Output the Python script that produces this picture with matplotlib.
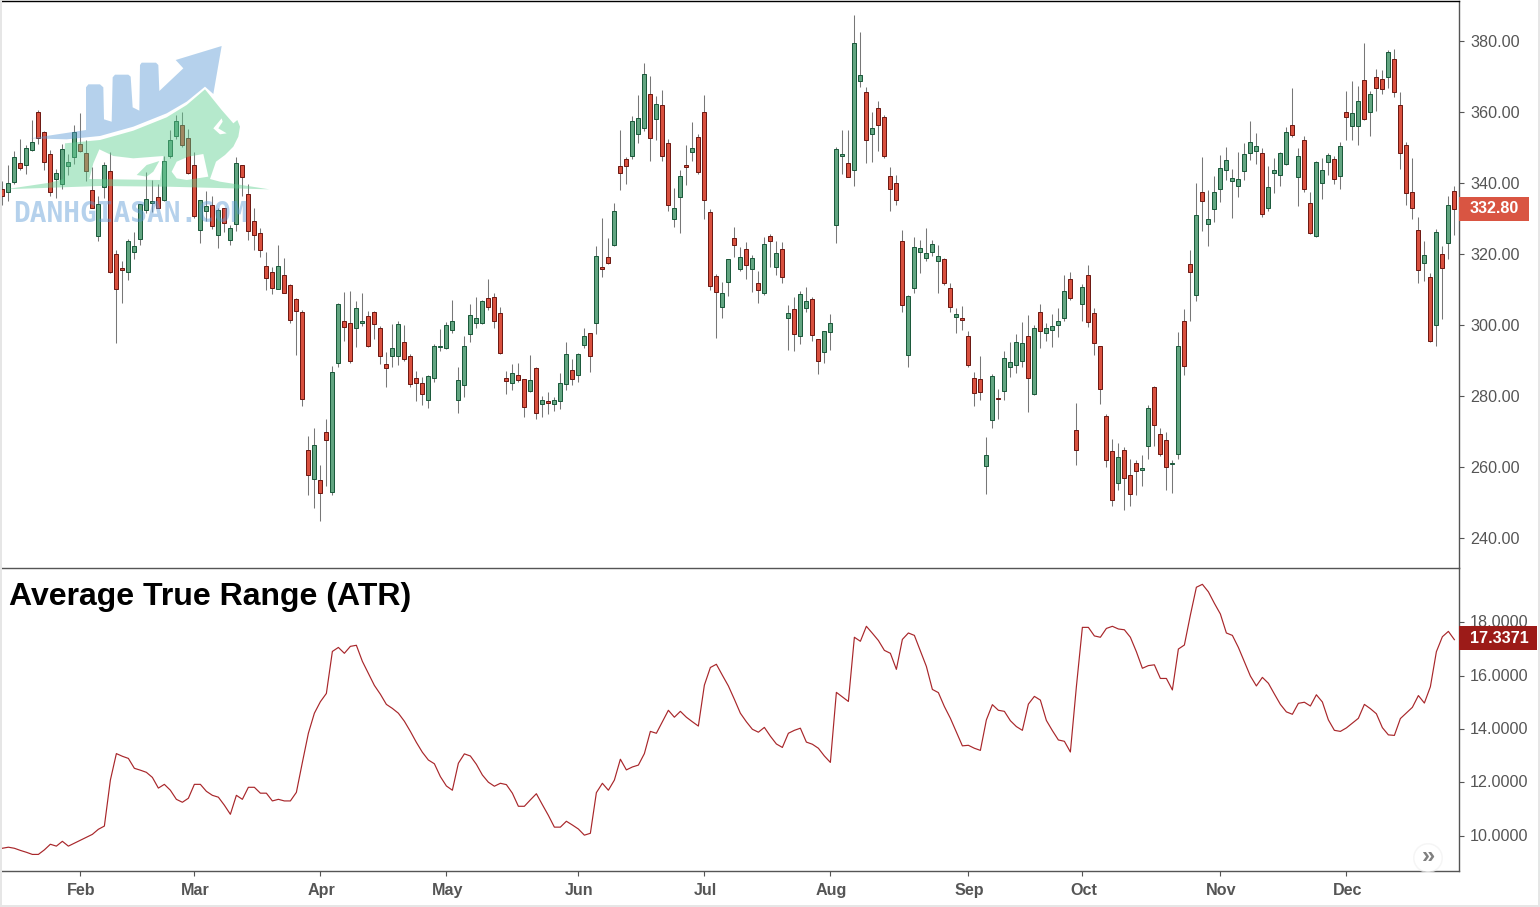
import matplotlib
matplotlib.use("Agg")
import matplotlib.pyplot as plt
from matplotlib.patches import PathPatch, Circle, Rectangle
from matplotlib.path import Path
from matplotlib.transforms import blended_transform_factory, ScaledTranslation

plt.rcParams['font.family'] = ['Liberation Sans', 'DejaVu Sans']

# daily candles
opens = [
    338.4,337.4,340.4,345.5,345.0,349.2,359.9,354.5,348.1,341.2,
    339.8,344.9,347.4,350.9,348.4,337.9,325.2,339.0,343.3,319.9,
    316.0,315.0,320.7,324.3,332.5,334.5,336.0,335.3,347.7,353.3,
    356.2,352.6,345.0,326.9,332.2,333.7,325.4,332.9,324.0,328.5,
    345.0,336.8,329.2,325.8,316.5,314.8,310.2,314.0,311.2,307.2,
    303.8,264.7,256.5,256.2,269.8,252.9,289.2,301.0,300.5,299.1,
    300.7,302.4,303.6,299.1,288.9,291.2,291.2,295.1,291.2,285.0,
    283.6,278.8,285.2,293.7,293.4,298.5,278.8,283.0,297.4,300.7,
    300.5,307.5,307.8,303.3,285.0,283.8,285.8,284.7,281.3,287.8,
    277.7,278.5,277.7,278.5,283.3,287.2,285.8,294.3,297.7,300.5,
    316.2,319.1,322.4,344.7,346.7,347.5,353.7,355.4,365.0,357.9,
    361.9,351.4,330.0,336.0,345.0,348.6,353.1,359.9,331.7,313.7,
    305.0,312.0,324.4,315.7,321.3,315.7,311.7,308.9,325.0,316.2,
    321.3,301.9,304.4,296.8,304.7,307.2,296.0,292.3,297.9,328.2,
    347.7,345.5,343.8,368.8,365.5,353.9,361.0,358.5,341.9,339.9,
    323.6,291.6,310.5,320.7,319.0,320.7,317.9,318.5,310.3,302.2,
    301.9,296.8,285.0,284.7,260.2,273.1,279.4,281.3,288.1,288.6,
    290.0,296.8,280.5,303.6,297.7,298.5,299.9,301.9,312.9,270.3,
    305.8,314.0,303.3,294.0,274.5,264.4,255.4,264.7,257.7,261.0,
    259.1,265.8,282.4,269.2,267.5,260.8,263.8,301.0,317.1,308.4,
    337.4,328.4,332.6,338.2,343.6,340.5,339.1,343.3,348.4,348.9,
    348.4,333.1,342.7,342.2,345.3,356.2,341.6,352.0,334.3,325.0,
    339.9,345.8,346.9,341.9,359.9,356.0,356.0,368.9,359.9,369.8,
    369.2,370.0,374.8,361.9,350.6,337.6,326.9,317.4,313.4,299.9,319.9,323.0,337.7,
]
closes = [
    336.2,339.9,347.2,344.3,350.0,351.5,352.8,345.8,337.6,342.7,
    349.5,345.8,354.3,349.1,343.5,333.1,334.0,345.0,315.0,310.2,
    315.6,323.6,322.2,334.0,335.4,334.8,333.1,346.1,352.0,357.4,
    350.8,342.9,330.8,335.1,333.4,328.0,332.3,328.8,327.2,345.5,
    341.8,326.6,325.4,321.2,313.3,310.5,316.5,309.1,301.5,304.0,
    279.1,257.8,266.1,252.6,267.5,286.9,305.8,299.3,289.8,304.7,
    301.0,294.0,300.2,291.2,287.8,293.4,300.2,290.3,283.3,283.6,
    280.7,285.5,294.0,294.0,299.9,301.0,284.4,294.0,302.7,301.9,
    306.9,305.0,301.0,292.0,284.1,286.4,284.4,276.8,284.4,275.1,
    279.0,277.9,278.8,283.8,291.7,284.7,291.7,296.8,291.2,319.3,
    315.9,317.6,332.0,342.7,344.7,357.6,358.2,370.6,352.6,362.2,
    347.5,333.7,332.9,341.9,344.4,349.8,343.0,335.1,310.9,309.2,
    308.9,318.5,322.4,319.1,316.8,318.8,310.0,322.7,323.8,320.2,
    313.4,303.3,297.4,308.6,306.7,297.1,290.0,298.2,300.7,349.5,
    348.1,341.8,379.3,370.3,352.2,355.4,356.2,347.5,338.4,335.3,
    305.5,308.3,321.9,321.6,320.2,322.7,319.3,311.7,305.0,303.0,
    301.5,288.8,280.8,281.0,263.3,285.5,279.2,290.6,289.5,295.1,
    294.8,285.0,299.1,298.2,299.1,299.6,301.0,309.5,307.5,264.7,
    310.6,300.9,294.8,281.9,261.9,250.6,262.7,256.8,252.3,258.8,
    259.6,276.5,271.7,263.8,259.9,261.0,294.0,288.4,314.8,330.9,
    334.8,329.8,337.4,344.1,346.4,341.3,341.0,348.1,351.5,350.3,
    331.2,338.8,343.8,348.4,354.3,353.4,347.5,338.2,325.8,345.8,
    343.8,347.8,341.0,350.3,358.5,359.6,363.0,357.9,365.0,366.7,
    366.4,376.8,365.5,348.4,337.1,332.9,315.4,319.6,295.4,326.1,316.0,333.7,332.8,
]
highs = [
    340.6,345.1,349.0,352.3,350.6,357.7,360.6,354.6,349.2,343.9,
    350.9,348.1,356.3,359.7,352.0,344.4,336.3,345.9,348.7,321.1,
    317.9,324.1,326.1,334.2,343.0,340.8,339.7,347.6,354.8,359.2,
    360.0,355.1,348.7,335.1,337.7,336.3,332.9,333.1,328.3,347.3,
    345.1,339.7,333.0,327.3,320.7,316.3,322.5,318.9,311.5,307.6,
    304.2,268.6,271.0,260.6,273.5,288.4,306.1,309.3,309.6,306.9,
    309.0,303.9,303.9,299.6,292.3,300.3,301.0,300.0,291.8,287.0,
    285.3,285.9,294.6,298.9,300.8,307.0,288.2,296.9,305.9,307.9,
    307.0,313.0,309.0,305.1,287.0,289.0,289.3,284.7,291.5,288.2,
    280.0,281.1,279.7,286.5,295.1,290.4,292.1,299.2,297.7,322.2,
    330.1,324.5,334.5,354.9,347.3,358.9,364.8,373.8,370.1,364.5,
    366.2,352.4,338.6,343.6,350.7,357.2,353.8,364.8,332.7,314.4,
    312.1,318.5,327.6,322.0,323.4,319.7,315.2,324.8,325.6,323.6,
    323.4,305.5,307.9,309.5,310.7,307.9,296.0,298.2,303.0,350.1,
    354.9,354.9,387.3,382.5,367.0,360.0,363.1,359.2,344.5,342.2,
    326.8,308.4,324.8,323.9,327.3,323.9,322.5,318.9,311.7,304.8,
    305.3,298.3,286.8,291.3,268.4,286.2,281.9,292.7,295.2,297.5,
    300.8,302.8,300.0,305.9,300.6,303.1,304.8,314.1,314.9,278.0,
    311.5,316.9,304.8,294.0,274.8,267.9,266.8,265.6,262.3,262.0,
    263.4,277.5,282.8,271.0,269.9,262.0,298.0,304.5,321.1,340.0,
    347.3,338.0,342.0,347.9,350.2,344.0,348.7,351.3,357.5,354.1,
    349.8,344.8,347.0,348.7,355.8,366.8,349.9,353.2,337.5,346.2,
    347.0,348.5,347.6,351.5,365.9,368.7,367.3,379.4,365.9,372.1,
    371.8,377.5,377.8,365.6,351.5,347.0,330.4,323.7,314.6,327.0,322.3,336.3,339.2,
]
lows = [
    333.8,335.0,339.8,343.7,342.6,349.0,351.0,343.7,336.3,335.9,
    338.3,342.3,345.4,348.8,340.6,332.9,323.7,335.8,314.7,294.9,
    306.3,312.7,318.6,322.5,331.5,331.8,332.9,334.9,347.1,352.4,
    350.2,342.4,330.1,323.1,329.3,327.1,321.8,326.2,322.5,326.6,
    336.3,324.0,321.1,319.2,309.9,308.7,310.1,308.9,300.7,291.5,
    277.2,252.1,248.5,244.9,254.6,252.1,288.2,295.5,289.3,293.8,
    299.7,293.9,296.1,289.0,282.5,288.2,288.7,289.9,282.5,278.6,
    277.5,276.6,283.9,292.7,293.3,297.7,275.2,279.7,295.2,299.2,
    300.3,304.2,299.2,291.9,280.6,281.7,284.0,274.1,281.1,273.5,
    274.1,274.9,275.8,276.3,281.7,283.1,283.9,293.5,286.8,297.5,
    313.6,317.2,322.3,338.1,339.8,346.9,351.4,354.7,346.2,352.1,
    346.2,332.2,327.6,326.0,339.4,346.2,342.6,329.9,309.9,296.3,
    302.0,308.2,319.1,315.3,313.0,309.3,306.2,308.5,316.3,314.1,
    311.8,292.9,292.7,294.6,303.6,295.5,286.2,289.3,292.9,323.1,
    342.5,341.8,339.1,367.0,345.6,345.9,349.0,347.0,332.1,333.8,
    303.6,288.2,309.0,314.6,318.0,319.4,309.0,311.3,303.6,297.7,
    298.6,288.2,277.2,278.9,252.4,271.0,273.5,278.9,285.3,286.5,
    288.2,275.5,280.4,293.5,295.5,293.8,296.6,301.1,307.0,260.6,
    301.1,299.3,291.6,277.7,260.0,249.0,253.5,247.9,249.0,252.1,
    254.6,262.3,265.9,263.1,253.5,252.7,262.3,285.9,301.1,306.8,
    326.5,322.3,329.0,334.6,340.8,330.1,336.1,340.8,346.5,345.3,
    330.5,332.1,337.2,339.2,345.2,353.0,333.5,337.5,325.7,324.9,
    335.5,342.3,339.7,338.3,352.1,352.1,350.7,357.8,353.2,360.3,
    365.1,366.8,364.2,343.9,333.8,329.9,311.8,312.4,295.3,294.1,301.7,318.6,325.3,
]
atr = [
    9.54,9.58,9.54,9.46,9.39,9.31,9.31,9.48,9.69,9.62,
    9.80,9.62,9.73,9.84,9.95,10.06,10.25,10.37,12.09,13.08,
    12.98,12.90,12.53,12.46,12.38,12.19,11.79,11.93,11.71,11.37,
    11.26,11.41,11.93,11.93,11.67,11.52,11.45,11.15,10.81,11.52,
    11.37,11.82,11.82,11.60,11.60,11.31,11.37,11.31,11.31,11.63,
    12.75,13.84,14.59,15.02,15.33,16.90,17.05,16.83,17.09,17.13,
    16.53,16.08,15.63,15.30,14.92,14.77,14.59,14.29,13.91,13.50,
    13.13,12.84,12.70,12.22,11.87,11.71,12.72,13.07,12.99,12.68,
    12.28,12.01,11.86,11.97,11.92,11.60,11.11,11.11,11.35,11.58,
    11.17,10.77,10.33,10.33,10.55,10.41,10.26,10.03,10.10,11.62,
    11.97,11.71,12.09,12.87,12.47,12.58,12.65,13.08,13.91,13.84,
    14.27,14.70,14.44,14.66,14.44,14.27,14.11,15.64,16.30,16.42,
    16.01,15.61,15.11,14.59,14.27,13.99,13.88,14.06,13.73,13.44,
    13.31,13.84,13.95,14.03,13.51,13.43,13.28,12.99,12.75,15.37,
    15.20,15.03,17.43,17.28,17.84,17.58,17.31,16.94,16.83,16.23,
    17.35,17.59,17.50,16.92,16.34,15.48,15.36,14.84,14.40,13.88,
    13.37,13.39,13.28,13.20,14.34,14.91,14.70,14.66,14.31,14.09,
    13.95,14.93,15.22,15.08,14.32,13.94,13.59,13.54,13.14,15.58,
    17.80,17.80,17.48,17.43,17.76,17.84,17.74,17.71,17.43,16.89,
    16.27,16.37,16.40,15.89,15.89,15.46,16.99,17.14,18.26,19.30,
    19.41,19.13,18.70,18.30,17.59,17.50,17.05,16.52,15.98,15.61,
    15.93,15.71,15.31,14.92,14.64,14.55,14.96,15.00,14.86,15.28,
    15.01,14.34,13.95,13.91,14.04,14.22,14.40,14.92,14.76,14.57,
    14.05,13.78,13.76,14.39,14.60,14.81,15.25,14.97,15.58,16.89,
    17.45,17.65,17.34,
]

month_pos = [13, 32, 53, 74, 96, 117, 138, 161, 180, 203, 224]
month_labels = ['Feb', 'Mar', 'Apr', 'May', 'Jun', 'Jul', 'Aug', 'Sep', 'Oct', 'Nov', 'Dec']
price_ticks = [240, 260, 280, 300, 320, 340, 360, 380]
atr_ticks = [10, 12, 14, 16, 18]
last_price = 332.80
last_atr = 17.3371

GREY = '#555555'
W, H = 1540, 907

fig = plt.figure(figsize=(W / 100, H / 100), dpi=100, facecolor='white')
ax = fig.add_axes([0, 1 - 568 / H, 1459 / W, 567 / H])
ax2 = fig.add_axes([0, 1 - 871 / H, 1459 / W, 303 / H])

# candles
x = list(range(len(opens)))
up = [c >= o for o, c in zip(opens, closes)]
ax.vlines(x, lows, highs, color='#777777', lw=0.75, zorder=2)
ax.bar(x, [abs(c - o) for o, c in zip(opens, closes)],
       bottom=[min(o, c) for o, c in zip(opens, closes)], width=0.667,
       color=['#62a581' if u else '#d9503e' for u in up],
       edgecolor=['#1c5a3c' if u else '#6e1a14' for u in up],
       linewidth=0.72, zorder=3)
ax.set_xlim(-0.395, 242.77)
ax.set_ylim(231.55, 391.27)
ax.set_yticks(price_ticks)
ax.set_yticklabels(['%.2f' % t for t in price_ticks])
ax.set_xticks([])

# atr pane
ax2.plot(x, atr, color='#a8262a', lw=0.85)
ax2.set_xlim(-0.395, 242.77)
ax2.set_ylim(8.69, 20.02)
ax2.set_yticks(atr_ticks)
ax2.set_yticklabels(['%.4f' % t for t in atr_ticks])
ax2.set_xticks(month_pos)
ax2.set_xticklabels(month_labels, fontweight='bold')

for a in (ax, ax2):
    a.yaxis.tick_right()
    a.set_facecolor('none')
    a.tick_params(axis='y', length=3.6, width=0.8, color=GREY, labelcolor=GREY, labelsize=11.6, pad=4.4)
    a.tick_params(axis='x', length=3.6, width=0.8, color=GREY, labelcolor=GREY, labelsize=11.6, pad=5)
    a.spines['left'].set_visible(False)
    a.spines['right'].set_color(GREY)
    a.spines['right'].set_linewidth(1.0)
ax.spines['top'].set_color('black')
ax.spines['top'].set_linewidth(1.0)
ax.spines['bottom'].set_color(GREY)
ax.spines['bottom'].set_linewidth(1.0)
ax2.spines['top'].set_visible(False)
ax2.spines['bottom'].set_color(GREY)
ax2.spines['bottom'].set_linewidth(1.0)

# small label nudges to sit on the same pixels
for lab in ax2.get_yticklabels():
    lab.set_transform(lab.get_transform() + ScaledTranslation(0, 1 / 100, fig.dpi_scale_trans))
for lab in ax2.get_xticklabels():
    lab.set_transform(lab.get_transform() + ScaledTranslation(1 / 100, 0, fig.dpi_scale_trans))


def value_tag(a, value, text, color, width, nudge=0):
    # last value box on the right axis
    tr = blended_transform_factory(a.transAxes, a.transData)
    span = a.get_ylim()[1] - a.get_ylim()[0]
    px = span / a.get_window_extent().height
    mid = value + nudge * px
    a.add_patch(Rectangle((1, mid - 12 * px), width / 1459, 24 * px, transform=tr, color=color,
                          clip_on=False, zorder=6, lw=0))
    a.text(1 + 11 / 1459, mid, text, transform=tr, color='white', fontsize=11.6, fontweight='bold',
           va='center', ha='left', zorder=7)


value_tag(ax, last_price, '%.2f' % last_price, '#d95542', 70)
value_tag(ax2, last_atr, '%.4f' % last_atr, '#9c1b18', 78, nudge=1.5)

# overlay in pixels for the logo, title, button and window edge
ov = fig.add_axes([0, 0, 1, 1], zorder=10)
ov.set_xlim(0, W)
ov.set_ylim(H, 0)
ov.axis('off')
ov.patch.set_alpha(0)


def logo_pts(pts):
    # logo outline was measured on a 3x crop starting at y=30
    return [(px / 3, 30 + py / 3) for px, py in pts]


def shape(*rings):
    verts, codes = [], []
    for ring in rings:
        p = logo_pts(ring)
        verts += p + [p[0]]
        codes += [Path.MOVETO] + [Path.LINETO] * (len(p) - 1) + [Path.CLOSEPOLY]
    return Path(verts, codes)


arrow = [(92, 325), (200, 328), (300, 318), (400, 290), (500, 250), (560, 215), (615, 170), (640, 192),
         (665, 48), (527, 90), (550, 115), (478, 183), (475, 105), (468, 98), (425, 98), (420, 105), (418, 242),
         (398, 232), (392, 140), (385, 134), (345, 134), (338, 142), (335, 275), (312, 268), (310, 172),
         (300, 163), (265, 163), (258, 172), (258, 300)]
bull = [(15, 478), (150, 458), (190, 447), (195, 340), (300, 330), (400, 302), (500, 262), (560, 225), (615, 178),
        (665, 240), (700, 280), (712, 270), (720, 290), (715, 320), (700, 350), (675, 375), (648, 395), (630, 447),
        (660, 455), (808, 478), (500, 470), (300, 468)]
hole_a = [(268, 447), (480, 450), (490, 378), (400, 385), (340, 378), (298, 358), (280, 400)]
hole_b = [(515, 425), (530, 445), (560, 450), (625, 440), (610, 372), (565, 380), (530, 395)]
eye = [(640, 295), (660, 313), (680, 310), (655, 295), (668, 275), (665, 265)]
leaf = [(410, 435), (440, 440), (460, 425), (478, 393), (440, 405)]

ov.add_patch(PathPatch(shape(arrow), fc='#5b9bd5', ec='none', alpha=0.45))
ov.add_patch(PathPatch(shape(bull, hole_a, hole_b, eye), fc='#5ccf8f', ec='none', alpha=0.45))
ov.add_patch(PathPatch(shape(leaf), fc='#5ccf8f', ec='none', alpha=0.45))
ov.text(13, 214, 'DANHGIASAN.COM', family='DejaVu Sans Mono', fontweight='bold', fontsize=20,
        color='#5b9bd5', alpha=0.45, va='center', ha='left')

ov.text(9, 596.5, 'Average True Range (ATR)', fontweight='bold', fontsize=23, color='black', va='center', ha='left')

ov.add_patch(Circle((1428, 858), 15, fc='#f2f2f2', ec='none', alpha=0.7))
ov.add_patch(Circle((1428, 858), 13.5, fc='white', ec='none'))
ov.text(1428, 856.5, '\u00bb', fontsize=17, fontweight='bold', color='#808080', va='center', ha='center')

for edge in [(0, 0, 1.5, H), (W - 2, 0, 2, H), (0, H - 2, W, 2)]:
    ov.add_patch(Rectangle(edge[:2], edge[2], edge[3], fc='#e6e6e6', ec='none'))

fig.savefig('out.png', dpi=100)
